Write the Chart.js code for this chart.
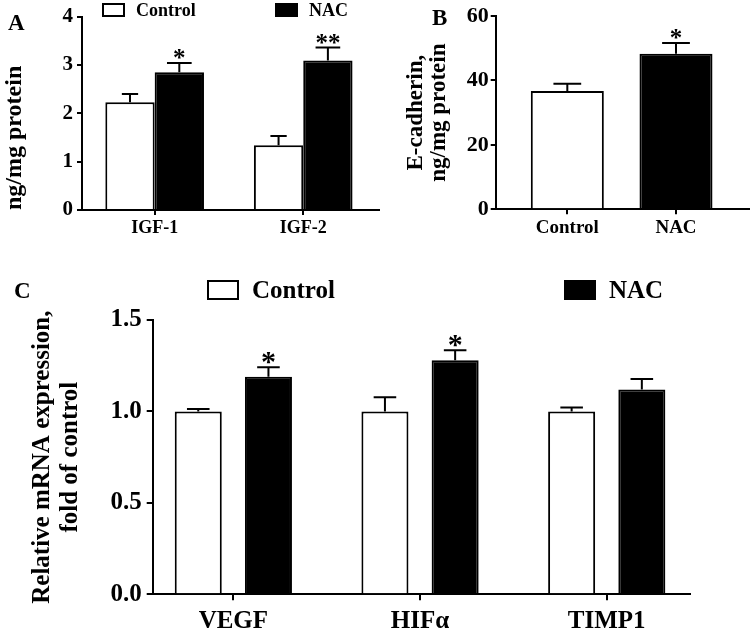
<!DOCTYPE html>
<html>
<head>
<meta charset="utf-8">
<script src="https://cdn.jsdelivr.net/npm/chart.js@4.4.1/dist/chart.umd.min.js"></script>
<style>
  body { margin: 0; background: #fff; width: 750px; height: 637px; position: relative; overflow: hidden; }
  canvas { position: absolute; }
</style>
</head>
<body>
<canvas id="chartA" width="385" height="240" style="left:0;top:0"></canvas>
<canvas id="chartB" width="365" height="240" style="left:385px;top:0"></canvas>
<canvas id="chartC" width="750" height="375" style="left:0;top:262px"></canvas>
<script>
const seriesNames = ['Control', 'NAC'];
const seriesFill = ['#ffffff', '#000000'];

// A - IGF, ng/mg protein
const catsA = ['IGF-1', 'IGF-2'];
const ctrlA = [2.23, 1.34];
const ctrlErrA = [0.17, 0.19];
const nacA = [2.85, 3.09];
const nacErrA = [0.19, 0.27];
const sigA = ['*', '**'];

// B - E-cadherin
const catsB = ['Control', 'NAC'];
const valsB = [36.7, 48.3];
const errB = [2.3, 3.3];
const sigB = ['', '*'];

// C - relative mRNA, fold of control
const catsC = ['VEGF', 'HIFα', 'TIMP1'];
const ctrlC = [1.0, 1.0, 1.0];
const ctrlErrC = [0.013, 0.077, 0.022];
const nacC = [1.19, 1.28, 1.12];
const nacErrC = [0.051, 0.055, 0.058];
const sigC = ['*', '*', ''];

const serif = 'Liberation Serif';
Chart.defaults.font.family = serif;
Chart.defaults.font.weight = 'bold';
Chart.defaults.color = '#000';

// category i sits at x = i + 1 on a linear axis
const pts = vals => vals.map((v, i) => ({ x: i + 1, y: v }));

function xAxis(cats, min, max, size, tl, pad, height) {
  return {
    type: 'linear', min, max, offset: false,
    afterBuildTicks: s => { s.ticks = cats.map((c, i) => ({ value: i + 1 })); },
    afterFit: s => { s.height = height; },
    ticks: { font: { size }, padding: pad, autoSkip: false, maxRotation: 0, callback: v => cats[v - 1] },
    grid: { offset: false, drawOnChartArea: false, tickLength: tl, color: '#000', lineWidth: 2 },
    border: { color: '#000', width: 2 }
  };
}

function yAxis(max, step, size, tl, pad, width, title, fmt) {
  const ax = {
    min: 0, max,
    afterFit: s => { s.width = width; },
    ticks: { stepSize: step, font: { size }, padding: pad },
    grid: { drawOnChartArea: false, tickLength: tl, color: '#000', lineWidth: 2 },
    border: { color: '#000', width: 2 },
    title: Object.assign({ display: true }, title)
  };
  if (fmt) ax.ticks.callback = fmt;
  return ax;
}

// upward error bars (SEM) and significance marks
function errorBars(errs, marks, capFrac, markSize, markLift) {
  return {
    id: 'errorBars',
    afterDatasetsDraw(chart) {
      const { ctx, scales: { y } } = chart;
      ctx.save();
      ctx.strokeStyle = '#000';
      ctx.lineWidth = 2;
      chart.data.datasets.forEach((ds, di) => {
        chart.getDatasetMeta(di).data.forEach((bar, i) => {
          const top = y.getPixelForValue(ds.data[i].y + errs[di][i]);
          const half = bar.width * capFrac[di] / 2;
          ctx.beginPath();
          ctx.moveTo(bar.x, bar.y);
          ctx.lineTo(bar.x, top);
          ctx.moveTo(bar.x - half, top);
          ctx.lineTo(bar.x + half, top);
          ctx.stroke();
          const m = marks[di][i];
          if (m) {
            ctx.font = 'bold ' + markSize + 'px ' + serif;
            ctx.textAlign = 'center';
            ctx.textBaseline = 'alphabetic';
            ctx.fillStyle = '#000';
            ctx.fillText(m, bar.x, top + markLift);
          }
        });
      });
      ctx.restore();
    }
  };
}

// panel letter + hand placed legend
function decorations(letter, legend) {
  return {
    id: 'decorations',
    afterDraw(chart) {
      const ctx = chart.ctx;
      ctx.save();
      ctx.fillStyle = '#000';
      ctx.textAlign = 'left';
      ctx.textBaseline = 'alphabetic';
      ctx.font = 'bold 23px ' + serif;
      ctx.fillText(letter.text, letter.x, letter.y);
      if (legend) {
        ctx.font = 'bold ' + legend.size + 'px ' + serif;
        chart.data.datasets.forEach((ds, i) => {
          const bx = legend.xs[i];
          ctx.fillStyle = ds.backgroundColor;
          ctx.fillRect(bx, legend.y, legend.w, legend.h);
          ctx.lineWidth = 2;
          ctx.strokeStyle = '#000';
          ctx.strokeRect(bx, legend.y, legend.w, legend.h);
          ctx.fillStyle = '#000';
          ctx.fillText(ds.label, bx + legend.w + legend.gap, legend.base);
        });
      }
      ctx.restore();
    }
  };
}

const basePlugins = { legend: { display: false }, tooltip: { enabled: false } };

const chartA = new Chart(document.getElementById('chartA'), {
  type: 'bar',
  data: {
    datasets: [
      { label: seriesNames[0], data: pts(ctrlA), backgroundColor: seriesFill[0], borderColor: '#000', borderWidth: 2 },
      { label: seriesNames[1], data: pts(nacA), backgroundColor: seriesFill[1], borderColor: '#000', borderWidth: 2 }
    ]
  },
  options: {
    responsive: false,
    animation: false,
    layout: { padding: { top: 16, right: 6 } },
    datasets: { bar: { categoryPercentage: 0.664, barPercentage: 1 } },
    plugins: basePlugins,
    scales: {
      x: xAxis(catsA, 0.511, 2.51, 18, 5, 3, 30),
      y: yAxis(4, 1, 21, 5, 4, 82, { text: 'ng/mg protein', align: 'start', font: { size: 24 }, padding: { top: 0 } })
    }
  },
  plugins: [
    errorBars([ctrlErrA, nacErrA], [['', ''], sigA], [0.33, 0.5], 25, 3),
    decorations({ text: 'A', x: 8, y: 30 }, { xs: [103, 276], y: 4, w: 21, h: 12, base: 16, size: 18, gap: 12 })
  ]
});

const chartB = new Chart(document.getElementById('chartB'), {
  type: 'bar',
  data: {
    datasets: [
      { label: 'E-cadherin', data: pts(valsB), backgroundColor: seriesFill, borderColor: '#000', borderWidth: 2 }
    ]
  },
  options: {
    responsive: false,
    animation: false,
    layout: { padding: { top: 16, right: 0 } },
    datasets: { bar: { categoryPercentage: 0.672, barPercentage: 1 } },
    plugins: basePlugins,
    scales: {
      x: xAxis(catsB, 0.341, 2.681, 19, 5, 2, 30.7),
      y: yAxis(60, 20, 22, 5, 2, 110.7, { text: ['E-cadherin,', 'ng/mg protein'], font: { size: 23, lineHeight: 1.0 }, padding: { top: 20 } })
    }
  },
  plugins: [
    errorBars([errB], [sigB], [0.38], 25, 3),
    decorations({ text: 'B', x: 47, y: 25 }, null)
  ]
});

const chartC = new Chart(document.getElementById('chartC'), {
  type: 'bar',
  data: {
    datasets: [
      { label: seriesNames[0], data: pts(ctrlC), backgroundColor: seriesFill[0], borderColor: '#000', borderWidth: 2 },
      { label: seriesNames[1], data: pts(nacC), backgroundColor: seriesFill[1], borderColor: '#000', borderWidth: 2 }
    ]
  },
  options: {
    responsive: false,
    animation: false,
    layout: { padding: { top: 58, right: 60 } },
    datasets: { bar: { categoryPercentage: 0.752, barPercentage: 0.67 } },
    plugins: basePlugins,
    scales: {
      x: xAxis(catsC, 0.568, 3.446, 25, 6, 6, 42.7),
      y: yAxis(1.5, 0.5, 25, 6, 5, 152.7,
        { text: ['Relative mRNA expression,', 'fold of control'], font: { size: 25, lineHeight: 1.14 }, padding: { top: 28 } },
        v => v.toFixed(1))
    }
  },
  plugins: [
    errorBars([ctrlErrC, nacErrC], [['', '', ''], sigC], [0.48, 0.48], 30, 4),
    decorations({ text: 'C', x: 14, y: 36 }, { xs: [208, 565], y: 19, w: 30, h: 18, base: 36, size: 25, gap: 14 })
  ]
});
</script>
</body>
</html>
